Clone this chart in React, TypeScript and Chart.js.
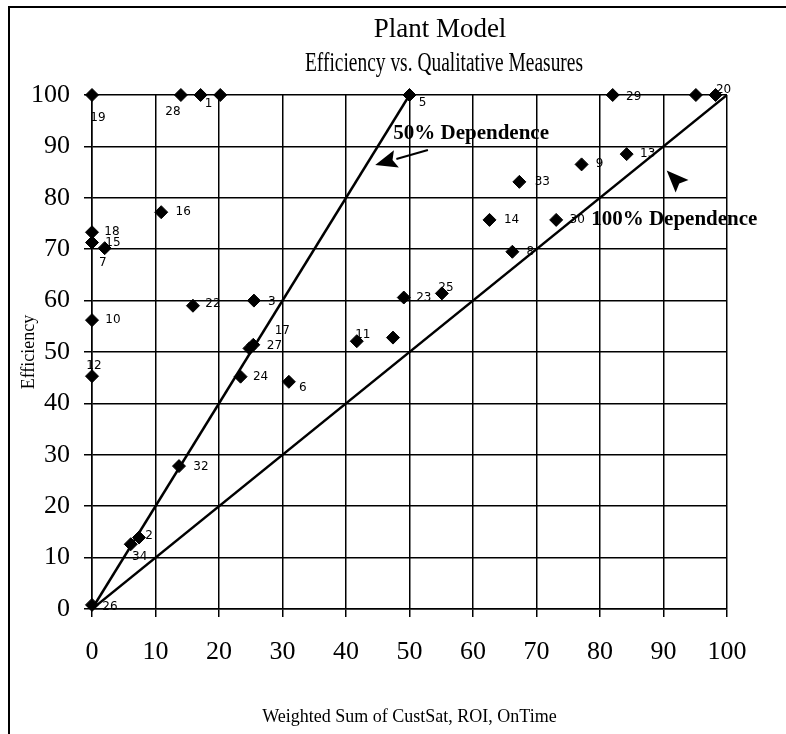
import React, { useEffect, useRef } from "react";
import { Chart, registerables } from "chart.js";

Chart.register(...registerables);

// ---- data ----
const titleLines = ["Plant Model", "Efficiency vs. Qualitative Measures"];
const xAxisTitle = "Weighted Sum of CustSat, ROI, OnTime";
const yAxisTitle = "Efficiency";

const pointIds = ["19", "28", "1", "", "5", "29", "", "20", "16", "18", "15", "7", "33", "14", "8", "9", "13", "30", "22", "3", "10", "17", "27", "12", "24", "6", "23", "25", "11", "", "32", "2", "34", "26"];
const xValues = [0, 14, 17.1, 20.2, 50, 82, 95.1, 98.2, 10.9, 0, 0, 2, 67.3, 62.6, 66.2, 77.1, 84.2, 73.1, 15.9, 25.5, 0, 25.4, 24.8, 0, 23.4, 31, 49.1, 55.1, 41.7, 47.4, 13.7, 7.4, 6.1, 0];
const yValues = [100, 100, 100, 100, 100, 100, 100, 100, 77.2, 73.3, 71.3, 70.2, 83.1, 75.7, 69.5, 86.5, 88.5, 75.7, 59, 60, 56.2, 51.4, 50.7, 45.3, 45.2, 44.2, 60.6, 61.4, 52.1, 52.8, 27.8, 13.9, 12.6, 0.8];

const line50X = [0, 50];
const line50Y = [0, 100];
const line100X = [0, 100];
const line100Y = [0, 100];

const tickValues = [0, 10, 20, 30, 40, 50, 60, 70, 80, 90, 100];

const annotTexts = ["50% Dependence", "100% Dependence"];
const annotX = [59.7, 91.7];
const annotY = [91.4, 74.7];
// arrows: [tailX, tailY, tipX, tipY]
const arrow50 = [52.9, 89.3, 44.6, 86.4];
const arrow100 = [92.4, 82.9, 90.5, 85.3];

// ---- styling (label placement offsets in px, per point) ----
const labelDx = [6, -8, 8, 0, 13, 21, 0, 8, 22, 20, 21, -2, 23, 22, 18, 18, 21, 21, 20, 18, 21, 29, 25, 2, 20, 14, 20, 4, 6, 0, 22, 10, 9, 18];
const labelDy = [23, 17, 9, 0, 8, 2, 0, -5, 0, 0, 0, 15, 0, 0, 0, -1, 0, 0, -2, 1, 0, -14, -3, -10, 0, 6, 0, -6, -6, 0, 1, -2, 13, 2];

const SERIF = '"Liberation Serif", "Times New Roman", serif';

function fillFitted(ctx: CanvasRenderingContext2D, text: string, cx: number, y: number, maxW: number) {
  const w = ctx.measureText(text).width;
  const s = w > maxW ? maxW / w : 1;
  ctx.save();
  ctx.translate(cx, y);
  ctx.scale(s, 1);
  ctx.fillText(text, 0, 0);
  ctx.restore();
}

const overlayPlugin = {
  id: "overlay",
  afterDraw(chart: any) {
    const ctx: CanvasRenderingContext2D = chart.ctx;
    const xs = chart.scales.x;
    const ys = chart.scales.y;
    const ca = chart.chartArea;
    ctx.save();
    // outer frame
    ctx.strokeStyle = "#000";
    ctx.lineWidth = 2;
    ctx.beginPath();
    ctx.moveTo(9, chart.height);
    ctx.lineTo(9, 7);
    ctx.lineTo(chart.width, 7);
    ctx.stroke();

    ctx.fillStyle = "#000";
    ctx.textAlign = "center";
    ctx.textBaseline = "alphabetic";
    // titles
    ctx.font = `27px ${SERIF}`;
    fillFitted(ctx, titleLines[0], 440, 37, 400);
    fillFitted(ctx, titleLines[1], 444, 71, 278);

    // axis titles
    ctx.font = `18px ${SERIF}`;
    ctx.fillText(xAxisTitle, (ca.left + ca.right) / 2, 722);
    ctx.save();
    ctx.translate(34, (ca.top + ca.bottom) / 2);
    ctx.rotate(-Math.PI / 2);
    ctx.fillText(yAxisTitle, 0, 0);
    ctx.restore();

    // point labels
    ctx.font = `12px "DejaVu Sans", sans-serif`;
    ctx.textBaseline = "middle";
    for (let i = 0; i < pointIds.length; i++) {
      if (!pointIds[i]) continue;
      const px = xs.getPixelForValue(xValues[i]);
      const py = ys.getPixelForValue(yValues[i]);
      ctx.fillText(pointIds[i], px + labelDx[i], py + labelDy[i]);
    }

    // annotations
    ctx.font = `bold 21px ${SERIF}`;
    ctx.textBaseline = "alphabetic";
    for (let i = 0; i < annotTexts.length; i++) {
      ctx.fillText(annotTexts[i], xs.getPixelForValue(annotX[i]), ys.getPixelForValue(annotY[i]));
    }

    const drawArrow = (a: number[], shaft: boolean) => {
      const tx = xs.getPixelForValue(a[0]);
      const ty = ys.getPixelForValue(a[1]);
      const hx = xs.getPixelForValue(a[2]);
      const hy = ys.getPixelForValue(a[3]);
      const ang = Math.atan2(hy - ty, hx - tx);
      const headLen = 22;
      const headW = 9;
      const bx = hx - headLen * Math.cos(ang);
      const by = hy - headLen * Math.sin(ang);
      if (shaft) {
        ctx.lineWidth = 2;
        ctx.beginPath();
        ctx.moveTo(tx, ty);
        ctx.lineTo(bx, by);
        ctx.stroke();
      }
      ctx.beginPath();
      ctx.moveTo(hx, hy);
      ctx.lineTo(bx + headW * Math.sin(ang), by - headW * Math.cos(ang));
      ctx.lineTo(bx + 4 * Math.cos(ang), by + 4 * Math.sin(ang));
      ctx.lineTo(bx - headW * Math.sin(ang), by + headW * Math.cos(ang));
      ctx.closePath();
      ctx.fill();
    };
    drawArrow(arrow50, true);
    drawArrow(arrow100, false);
    ctx.restore();
  },
};

export default function App() {
  const canvasRef = useRef<HTMLCanvasElement | null>(null);

  useEffect(() => {
    if (!canvasRef.current) return;
    const scatterData = xValues.map((x, i) => ({ x, y: yValues[i] }));
    const chart = new Chart(canvasRef.current, {
      type: "scatter",
      data: {
        datasets: [
          {
            data: scatterData,
            pointStyle: "rectRot",
            pointRadius: 6.5,
            pointBackgroundColor: "#000",
            pointBorderColor: "#000",
            pointBorderWidth: 1,
            showLine: false,
            clip: false,
          },
          {
            data: line50X.map((x, i) => ({ x, y: line50Y[i] })),
            showLine: true,
            borderColor: "#000",
            borderWidth: 2.5,
            pointRadius: 0,
          },
          {
            data: line100X.map((x, i) => ({ x, y: line100Y[i] })),
            showLine: true,
            borderColor: "#000",
            borderWidth: 2.5,
            pointRadius: 0,
          },
        ],
      },
      options: {
        animation: false,
        responsive: true,
        maintainAspectRatio: false,
        layout: { padding: { top: 95, right: 59, left: 0, bottom: 0 } },
        plugins: { legend: { display: false }, tooltip: { enabled: false }, title: { display: false } },
        scales: {
          x: {
            type: "linear",
            min: 0,
            max: 100,
            afterFit: (s: any) => {
              s.height = 125;
            },
            afterBuildTicks: (s: any) => {
              s.ticks = tickValues.map((v) => ({ value: v }));
            },
            ticks: { color: "#000", font: { family: SERIF, size: 26 }, padding: 20, maxRotation: 0, autoSkip: false },
            grid: { color: "#000", lineWidth: 1.5, tickLength: 8 },
            border: { color: "#000", width: 1.5 },
          },
          y: {
            type: "linear",
            min: 0,
            max: 100,
            afterFit: (s: any) => {
              s.width = 92;
            },
            afterBuildTicks: (s: any) => {
              s.ticks = tickValues.map((v) => ({ value: v }));
            },
            ticks: { color: "#000", font: { family: SERIF, size: 26 }, padding: 14, autoSkip: false },
            grid: { color: "#000", lineWidth: 1.5, tickLength: 8 },
            border: { color: "#000", width: 1.5 },
          },
        },
      },
      plugins: [overlayPlugin],
    });
    return () => chart.destroy();
  }, []);

  return (
    <div style={{ position: "absolute", left: 0, top: 0, width: 786, height: 734, background: "#fff" }}>
      <canvas ref={canvasRef} />
    </div>
  );
}
